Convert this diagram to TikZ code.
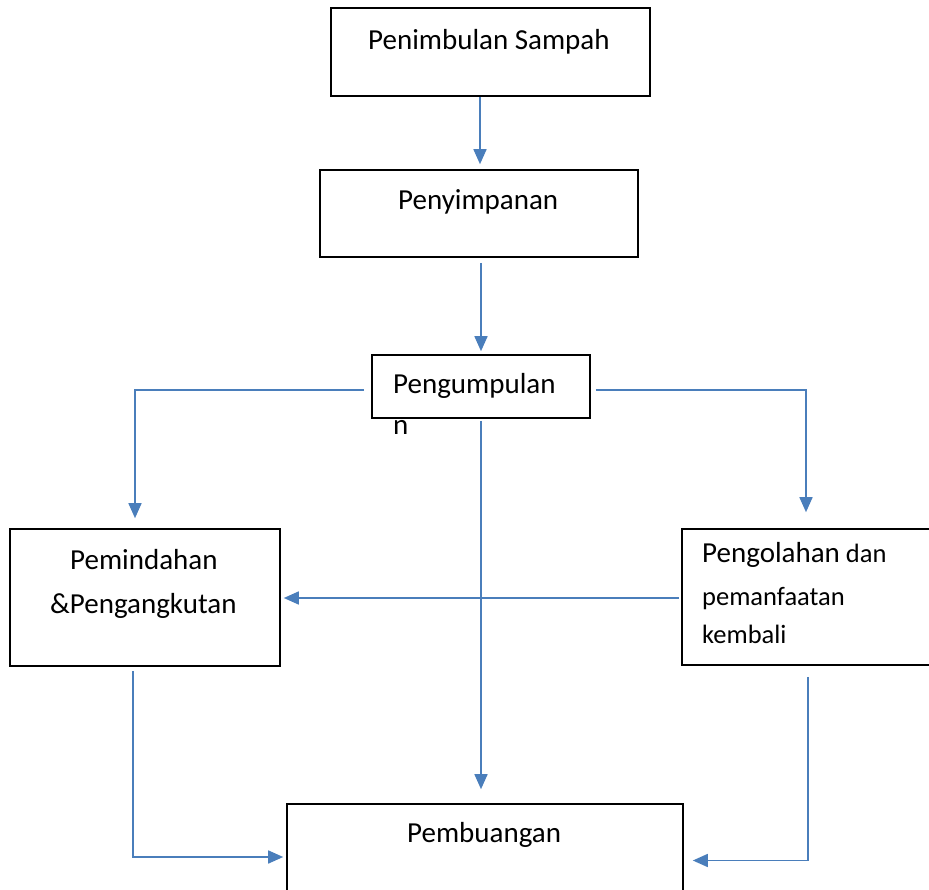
\documentclass[tikz,border=0pt]{standalone}
\usepackage{fontspec}
\setmainfont{Carlito}
\usetikzlibrary{arrows.meta}
\definecolor{connblue}{RGB}{74,126,187}
\begin{document}
\begin{tikzpicture}[x=1pt,y=-1pt,
  box/.style={draw=black,line width=1.6pt,inner sep=0pt},
  lbl/.style={anchor=base west,inner sep=0pt,font=\fontsize{29}{35}\selectfont},
  lblsm/.style={anchor=base west,inner sep=0pt,font=\fontsize{26.5}{32}\selectfont},
  conn/.style={draw=connblue,line width=1.6pt,-{Triangle[length=15pt,width=13pt]}}]
\useasboundingbox (0,0) rectangle (929,890);
% boxes
\node[box,minimum width=319pt,minimum height=88pt] (b1) at (490.5,52) {};
\node[box,minimum width=318pt,minimum height=87pt] (b2) at (479,213.5) {};
\node[box,minimum width=218pt,minimum height=63pt] (b3) at (481,386.5) {};
\node[box,minimum width=270pt,minimum height=137pt] (b4) at (145,597.5) {};
\node[box,minimum width=263pt,minimum height=136pt] (b5) at (813.5,597) {};
\node[box,minimum width=396pt,minimum height=101pt] (b6) at (485,854.5) {};
% texts
\node[lbl] (t1) at (368,50) {Penimbulan Sampah};
\node[lbl] (t2) at (398,210) {Penyimpanan};
\node[lbl] (t3) at (393,394) {Pengumpulan};
\node[lbl] (t3b) at (393,434) {n};
\node[lbl] (t4a) at (70,569) {Pemindahan};
\node[lbl] (t4b) at (50,613) {\&Pengangkutan};
\node[lbl] (t5a) at (702,562) {Pengolahan{\fontsize{26.5}{32}\selectfont\ dan}};
\node[lblsm] (t5b) at (702,605) {pemanfaatan};
\node[lblsm] (t5c) at (702,643) {kembali};
\node[lbl] (t6) at (407,842) {Pembuangan};
% connectors
\draw[conn] ([xshift=-10.5pt]b1.south) -- ([xshift=1pt,yshift=5pt]b2.north);
\draw[conn] ([xshift=2pt,yshift=-5pt]b2.south) -- ([yshift=3pt]b3.north);
\draw[conn] ([xshift=-7pt,yshift=-3.5pt]b3.west) -| ([xshift=-10pt,yshift=10pt]b4.north);
\draw[conn] ([xshift=5pt,yshift=-3.5pt]b3.east) -| ([xshift=-7.5pt,yshift=16pt]b5.north);
\draw[conn] ([yshift=-2pt]b3.south) -- ([xshift=-4pt,yshift=14pt]b6.north);
\draw[conn] ([xshift=-2pt,yshift=-1pt]b5.west) -- ([xshift=3pt,yshift=-0.5pt]b4.east);
\draw[conn] ([xshift=-12pt,yshift=-4pt]b4.south) |- ([xshift=-3pt,yshift=-2.5pt]b6.west);
\draw[conn] ([xshift=-5.5pt,yshift=-11pt]b5.south) |- ([xshift=9pt,yshift=-6pt]b6.east);
\end{tikzpicture}
\end{document}
